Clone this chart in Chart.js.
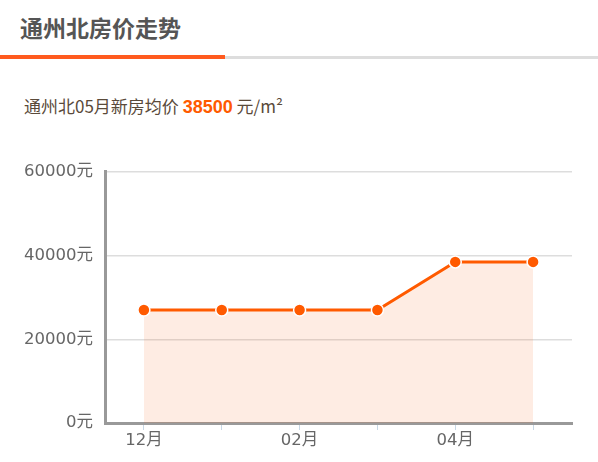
<!DOCTYPE html>
<html>
<head>
<meta charset="utf-8">
<script src="https://cdn.jsdelivr.net/npm/chart.js@4"></script>
<style>
  html, body { margin: 0; padding: 0; background: #fff; }
  body { width: 598px; height: 462px; position: relative; overflow: hidden;
         font-family: "Noto Sans CJK SC", sans-serif; }
  #title { position: absolute; left: 20px; top: 10px; font-size: 23px; font-weight: bold;
           color: #555; line-height: 34px; }
  #lineGrey { position: absolute; left: 0; top: 56px; width: 598px; height: 3px; background: #ddd; }
  #lineOrange { position: absolute; left: 0; top: 55px; width: 225px; height: 4px; background: #ff5a1e; }
  #sub { position: absolute; left: 24px; top: 92px; font-size: 17px; color: #5a4a3a; line-height: 28px; }
  #sub b { color: #ff5a00; font-family: "Liberation Sans", sans-serif; font-size: 18px; }
  #wrap { position: absolute; left: 0; top: 150px; width: 598px; height: 312px; }
</style>
</head>
<body>
<div id="title">通州北房价走势</div>
<div id="lineGrey"></div>
<div id="lineOrange"></div>
<div id="sub">通州北05月新房均价 <b>38500</b> 元/m²</div>
<div id="wrap"><canvas id="priceChart" width="598" height="312"></canvas></div>
<script>
  const months = ["12月", "01月", "02月", "03月", "04月", "05月"];
  const prices = [27000, 27000, 27000, 27000, 38500, 38500];
  const yTicks = [0, 20000, 40000, 60000];

  const labelFont = { family: "'DejaVu Sans', 'Noto Sans CJK SC', sans-serif", size: 16.5 };

  new Chart(document.getElementById("priceChart"), {
    type: "line",
    data: {
      labels: months,
      datasets: [{
        data: prices,
        borderColor: "#ff5a00",
        borderWidth: 3,
        backgroundColor: "rgba(250,110,40,0.13)",
        fill: "origin",
        tension: 0,
        pointRadius: 6,
        pointBorderWidth: 1.5,
        pointBorderColor: "#fff",
        pointBackgroundColor: "#ff5a00",
      }],
    },
    options: {
      responsive: false,
      animation: false,
      layout: { padding: { top: 12, right: 26, left: 0, bottom: 0 } },
      plugins: { legend: { display: false }, tooltip: { enabled: false } },
      scales: {
        x: {
          offset: true,
          border: { color: "#999", width: 3 },
          grid: { drawOnChartArea: false, color: "#c8d8e6", tickLength: 7, offset: false },
          ticks: {
            color: "#666",
            font: labelFont,
            autoSkip: false,
            maxRotation: 0,
            padding: 1,
            callback: function (v, i) { return i % 2 === 0 ? this.getLabelForValue(v) : ""; },
          },
          afterFit: (s) => { s.height = 39; },
        },
        y: {
          min: yTicks[0],
          max: yTicks[yTicks.length - 1],
          border: { color: "#999", width: 3 },
          grid: { color: "#dddddd", lineWidth: 1.5, drawTicks: false },
          afterBuildTicks: (s) => { s.ticks = yTicks.map((v) => ({ value: v })); },
          ticks: {
            color: "#666",
            font: labelFont,
            padding: 12,
            callback: (v) => v + "元",
          },
          afterFit: (s) => { s.width = 105; },
        },
      },
    },
  });
</script>
</body>
</html>
